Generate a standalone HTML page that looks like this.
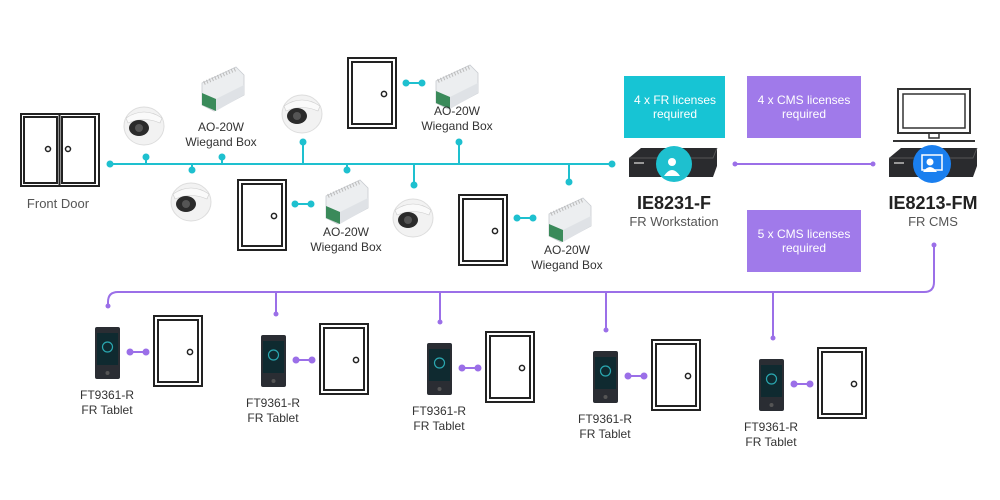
<!DOCTYPE html>
<html><head><meta charset="utf-8"><style>
html,body{margin:0;padding:0;background:#fff;}
svg{display:block;font-family:"Liberation Sans",sans-serif;}
</style></head><body>
<svg width="1000" height="500" viewBox="0 0 1000 500" xmlns="http://www.w3.org/2000/svg">
<defs>
<g id="door">
 <rect x="0" y="0" width="48" height="70" fill="#fff" stroke="#222" stroke-width="2"/>
 <rect x="4" y="4" width="40" height="62" fill="none" stroke="#222" stroke-width="2"/>
 <circle cx="36" cy="36" r="2.6" fill="none" stroke="#222" stroke-width="1.5"/>
</g>
<g id="cam">
 <ellipse cx="20" cy="22" rx="20" ry="19" fill="#f2f2f2" stroke="#ddd"/>
 <path d="M2 14 Q20 2 38 14 L36 19 Q20 12 4 19Z" fill="#fafafa" stroke="#ccc" stroke-width="0.6"/>
 <ellipse cx="15" cy="24" rx="10" ry="8" fill="#2b2b2b"/>
 <circle cx="15" cy="24" r="4" fill="#555"/>
</g>
<g id="wbox">
 <path d="M4 18 L38 2 L46 10 L46 30 L16 46 L4 40Z" fill="#eceef0" stroke="#c8cbd0" stroke-width="0.8"/>
 <path d="M4 28 L18 34 L18 46 L4 40Z" fill="#3a8a5a"/>
 <path d="M18 34 L46 20 L46 30 L18 46Z" fill="#dfe2e6"/>
 <path d="M6 18 L38 4" stroke="#bbb" stroke-width="4" stroke-dasharray="1 2"/>
</g>
<g id="tab">
 <rect x="0" y="0" width="25" height="52" rx="2" fill="#2a2d33"/>
 <rect x="2" y="6" width="21" height="32" fill="#0f2a30"/>
 <circle cx="12.5" cy="20" r="5" fill="none" stroke="#2aa7b0" stroke-width="1.2"/>
 <circle cx="12.5" cy="46" r="2" fill="#555"/>
</g>
<g id="nvr">
 <path d="M0 10 L12 0 L88 0 L88 18 L84 29 L0 29Z" fill="#2a2b2e"/>
 <path d="M0 10 L84 10 L88 0" fill="none" stroke="#555" stroke-width="1"/>
 <rect x="5" y="14" width="10" height="2" fill="#999"/>
</g>
</defs>

<!-- teal bus -->
<g stroke="#1ec0cf" stroke-width="2" fill="#1ec0cf">
 <line x1="110" y1="164" x2="612" y2="164"/>
 <circle cx="110" cy="164" r="2.5"/><circle cx="612" cy="164" r="2.5"/>
 <line x1="146" y1="157" x2="146" y2="164"/><circle cx="146" cy="157" r="2.5"/>
 <line x1="192" y1="164" x2="192" y2="170"/><circle cx="192" cy="170" r="2.5"/>
 <line x1="222" y1="157" x2="222" y2="164"/><circle cx="222" cy="157" r="2.5"/>
 <line x1="303" y1="142" x2="303" y2="164"/><circle cx="303" cy="142" r="2.5"/>
 <line x1="347" y1="164" x2="347" y2="170"/><circle cx="347" cy="170" r="2.5"/>
 <line x1="414" y1="164" x2="414" y2="185"/><circle cx="414" cy="185" r="2.5"/>
 <line x1="459" y1="142" x2="459" y2="164"/><circle cx="459" cy="142" r="2.5"/>
 <line x1="569" y1="164" x2="569" y2="182"/><circle cx="569" cy="182" r="2.5"/>
 <line x1="406" y1="83" x2="422" y2="83"/><circle cx="406" cy="83" r="2.5"/><circle cx="422" cy="83" r="2.5"/>
 <line x1="295" y1="204" x2="311" y2="204"/><circle cx="295" cy="204" r="2.5"/><circle cx="311" cy="204" r="2.5"/>
 <line x1="517" y1="218" x2="533" y2="218"/><circle cx="517" cy="218" r="2.5"/><circle cx="533" cy="218" r="2.5"/>
</g>

<!-- front door -->
<g stroke="#222" stroke-width="2" fill="#fff">
 <rect x="21" y="114" width="78" height="72"/>
 <rect x="24" y="117" width="33" height="66"/>
 <rect x="62" y="117" width="33" height="66"/>
 <line x1="59.5" y1="114" x2="59.5" y2="186"/>
</g>
<circle cx="48" cy="149" r="2.5" fill="none" stroke="#222" stroke-width="1.5"/>
<circle cx="68" cy="149" r="2.5" fill="none" stroke="#222" stroke-width="1.5"/>
<text x="58" y="208" font-size="13" fill="#555" text-anchor="middle">Front Door</text>

<use href="#door" x="348" y="58"/>
<use href="#door" x="238" y="180"/>
<use href="#door" x="459" y="195"/>

<use href="#cam" x="124" y="104"/>
<use href="#cam" x="282" y="92"/>
<use href="#cam" x="171" y="180"/>
<use href="#cam" x="393" y="196"/>

<use href="#wbox" x="198" y="65"/>
<use href="#wbox" x="432" y="63"/>
<use href="#wbox" x="322" y="178"/>
<use href="#wbox" x="545" y="196"/>

<g font-size="12" fill="#333" text-anchor="middle">
 <text x="221" y="131">AO-20W</text><text x="221" y="146">Wiegand Box</text>
 <text x="457" y="115">AO-20W</text><text x="457" y="130">Wiegand Box</text>
 <text x="346" y="236">AO-20W</text><text x="346" y="251">Wiegand Box</text>
 <text x="567" y="254">AO-20W</text><text x="567" y="269">Wiegand Box</text>
</g>

<!-- license boxes -->
<rect x="624" y="76" width="101" height="62" fill="#17c4d4"/>
<rect x="747" y="76" width="114" height="62" fill="#a07aea"/>
<rect x="747" y="210" width="114" height="62" fill="#a07aea"/>
<g font-size="12" fill="#fff" text-anchor="middle">
 <text x="675" y="104">4 x FR licenses</text><text x="675" y="118">required</text>
 <text x="804" y="104">4 x CMS licenses</text><text x="804" y="118">required</text>
 <text x="804" y="238">5 x CMS licenses</text><text x="804" y="252">required</text>
</g>

<!-- NVRs -->
<use href="#nvr" x="629" y="148"/>
<circle cx="674" cy="164" r="18" fill="#1ec0cf"/>
<circle cx="672" cy="162" r="4" fill="#fff"/><path d="M664 176 Q672 164 680 176Z" fill="#fff"/>
<use href="#nvr" x="889" y="148"/>
<circle cx="932" cy="164" r="19" fill="#1a7fef"/>
<rect x="922" y="155" width="20" height="15" fill="none" stroke="#fff" stroke-width="1.5"/>
<circle cx="930" cy="162" r="3.5" fill="#fff"/><path d="M923 172 Q930 162 937 172Z" fill="#fff"/>

<!-- monitor -->
<rect x="898" y="89" width="72" height="44" fill="#fff" stroke="#333" stroke-width="2"/>
<rect x="903" y="94" width="62" height="34" fill="none" stroke="#333" stroke-width="1.5"/>
<rect x="929" y="133" width="10" height="5" fill="none" stroke="#333" stroke-width="1.5"/>
<line x1="893" y1="141" x2="975" y2="141" stroke="#333" stroke-width="2"/>

<g text-anchor="middle">
 <text x="674" y="209" font-size="18" font-weight="bold" fill="#222">IE8231-F</text>
 <text x="674" y="226" font-size="13" fill="#555">FR Workstation</text>
 <text x="933" y="209" font-size="18" font-weight="bold" fill="#222">IE8213-FM</text>
 <text x="933" y="226" font-size="13" fill="#555">FR CMS</text>
</g>

<!-- purple lines -->
<g stroke="#9b6fe8" stroke-width="2" fill="none">
 <line x1="735" y1="164" x2="873" y2="164"/>
 <path d="M934 245 L934 282 Q934 292 924 292 L118 292 Q108 292 108 302 L108 306"/>
 <line x1="276" y1="292" x2="276" y2="314"/>
 <line x1="440" y1="292" x2="440" y2="322"/>
 <line x1="606" y1="292" x2="606" y2="330"/>
 <line x1="773" y1="292" x2="773" y2="338"/>
</g>
<g fill="#9b6fe8">
 <circle cx="735" cy="164" r="2.5"/><circle cx="873" cy="164" r="2.5"/>
 <circle cx="934" cy="245" r="2.5"/><circle cx="108" cy="306" r="2.5"/>
 <circle cx="276" cy="314" r="2.5"/><circle cx="440" cy="322" r="2.5"/>
 <circle cx="606" cy="330" r="2.5"/><circle cx="773" cy="338" r="2.5"/>
</g>

<!-- tablets groups -->
<g>
 <use href="#tab" x="95" y="327"/><use href="#door" x="154" y="316"/>
 <use href="#tab" x="261" y="335"/><use href="#door" x="320" y="324"/>
 <use href="#tab" x="427" y="343"/><use href="#door" x="486" y="332"/>
 <use href="#tab" x="593" y="351"/><use href="#door" x="652" y="340"/>
 <use href="#tab" x="759" y="359"/><use href="#door" x="818" y="348"/>
</g>
<g stroke="#9b6fe8" stroke-width="2" fill="#9b6fe8">
 <line x1="130" y1="352" x2="146" y2="352"/><circle cx="130" cy="352" r="2.5"/><circle cx="146" cy="352" r="2.5"/>
 <line x1="296" y1="360" x2="312" y2="360"/><circle cx="296" cy="360" r="2.5"/><circle cx="312" cy="360" r="2.5"/>
 <line x1="462" y1="368" x2="478" y2="368"/><circle cx="462" cy="368" r="2.5"/><circle cx="478" cy="368" r="2.5"/>
 <line x1="628" y1="376" x2="644" y2="376"/><circle cx="628" cy="376" r="2.5"/><circle cx="644" cy="376" r="2.5"/>
 <line x1="794" y1="384" x2="810" y2="384"/><circle cx="794" cy="384" r="2.5"/><circle cx="810" cy="384" r="2.5"/>
</g>
<g font-size="12" fill="#333" text-anchor="middle">
 <text x="107" y="399">FT9361-R</text><text x="107" y="414">FR Tablet</text>
 <text x="273" y="407">FT9361-R</text><text x="273" y="422">FR Tablet</text>
 <text x="439" y="415">FT9361-R</text><text x="439" y="430">FR Tablet</text>
 <text x="605" y="423">FT9361-R</text><text x="605" y="438">FR Tablet</text>
 <text x="771" y="431">FT9361-R</text><text x="771" y="446">FR Tablet</text>
</g>
</svg>
</body></html>
